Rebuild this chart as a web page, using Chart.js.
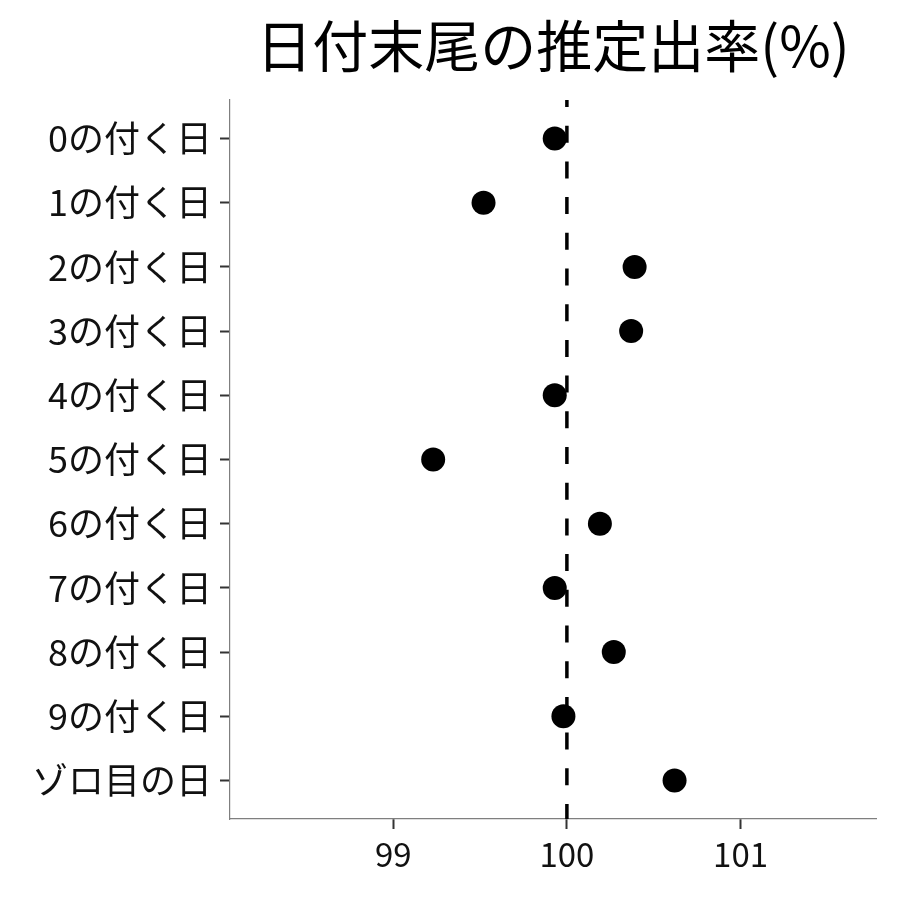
<!DOCTYPE html>
<html>
<head>
<meta charset="utf-8">
<title>日付末尾の推定出率</title>
<script src="https://cdn.jsdelivr.net/npm/chart.js@4/dist/chart.umd.min.js"></script>
<style>
  html, body { margin: 0; padding: 0; background: #fff; }
  #grafico { display: block; }
</style>
</head>
<body>
<canvas id="grafico" width="900" height="900"></canvas>
<script>
// Datos del gráfico
var categorias = ["0の付く日", "1の付く日", "2の付く日", "3の付く日", "4の付く日", "5の付く日",
                  "6の付く日", "7の付く日", "8の付く日", "9の付く日", "ゾロ目の日"];
var tasas = [99.93, 99.52, 100.39, 100.37, 99.93, 99.23, 100.19, 99.93, 100.27, 99.98, 100.62];
var ticksX = [99, 100, 101];
var referencia = 100;

var fuente = "'Noto Sans CJK JP', 'Noto Sans', sans-serif";

// Puntos: x = tasa, y = índice de la categoría
var puntos = tasas.map(function (v, i) { return { x: v, y: i }; });

var ctx = document.getElementById("grafico").getContext("2d");

new Chart(ctx, {
    type: "scatter",
    data: {
        datasets: [
            {
                data: puntos,
                backgroundColor: "#000",
                borderWidth: 0,
                pointRadius: 12,
                pointHoverRadius: 12
            },
            {
                // Línea discontinua de referencia en 100
                data: [{ x: referencia, y: -0.6 }, { x: referencia, y: categorias.length - 0.4 }],
                showLine: true,
                borderColor: "#000",
                borderWidth: 3.5,
                borderDash: [17, 18.7],
                borderDashOffset: 10,
                pointRadius: 0
            }
        ]
    },
    options: {
        responsive: false,
        animation: false,
        layout: { padding: { left: 0, right: 24, top: 0, bottom: 0 } },
        plugins: {
            legend: { display: false },
            tooltip: { enabled: false },
            title: {
                display: true,
                text: "日付末尾の推定出率(%)",
                fullSize: false,
                color: "#000",
                font: { family: fuente, size: 56, weight: "normal", lineHeight: 1.2 },
                padding: { top: 12, bottom: 20.8 }
            }
        },
        scales: {
            x: {
                type: "linear",
                min: 98.06,
                max: 101.78,
                afterBuildTicks: function (s) {
                    s.ticks = ticksX.map(function (v) { return { value: v }; });
                },
                afterFit: function (s) { s.height = 81; },
                grid: {
                    drawOnChartArea: false,
                    drawTicks: true,
                    tickLength: 10,
                    tickWidth: 2,
                    tickColor: "#333"
                },
                border: { display: true, color: "#7f7f7f", width: 1.2 },
                ticks: {
                    color: "#111",
                    padding: 6,
                    font: { family: fuente, size: 33 },
                    callback: function (v) { return v; }
                }
            },
            y: {
                type: "linear",
                reverse: true,
                min: -0.6,
                max: categorias.length - 0.4,
                afterBuildTicks: function (s) {
                    s.ticks = categorias.map(function (c, i) { return { value: i }; });
                },
                afterFit: function (s) { s.width = 230; },
                grid: {
                    drawOnChartArea: false,
                    drawTicks: true,
                    tickLength: 10,
                    tickWidth: 2,
                    tickColor: "#333"
                },
                border: { display: true, color: "#7f7f7f", width: 1.2 },
                ticks: {
                    color: "#111",
                    padding: 8,
                    font: { family: fuente, size: 36 },
                    callback: function (v) { return categorias[v]; }
                }
            }
        }
    }
});
</script>
</body>
</html>
